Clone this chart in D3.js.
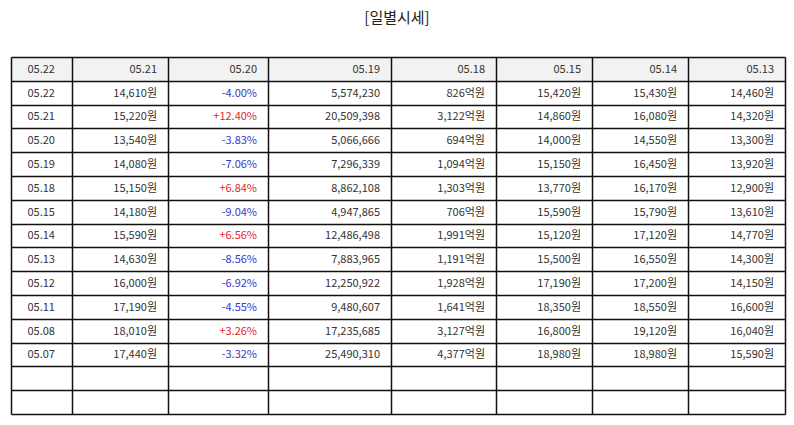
<!DOCTYPE html>
<html>
<head>
<meta charset="utf-8">
<script src="https://cdn.jsdelivr.net/npm/d3@7"></script>
<style>
  body { margin: 0; background: #fff; }
  text { font-family: "Noto Sans CJK KR", "Noto Sans", sans-serif; }
</style>
</head>
<body>
<div id="chart"></div>
<script>
var title = "[일별시세]";

var headers = ["05.22", "05.21", "05.20", "05.19", "05.18", "05.15", "05.14", "05.13"];

var dates = ["05.22", "05.21", "05.20", "05.19", "05.18", "05.15", "05.14", "05.13", "05.12", "05.11", "05.08", "05.07"];
var closePrice = ["14,610원", "15,220원", "13,540원", "14,080원", "15,150원", "14,180원", "15,590원", "14,630원", "16,000원", "17,190원", "18,010원", "17,440원"];
var changeRate = ["-4.00%", "+12.40%", "-3.83%", "-7.06%", "+6.84%", "-9.04%", "+6.56%", "-8.56%", "-6.92%", "-4.55%", "+3.26%", "-3.32%"];
var volume = ["5,574,230", "20,509,398", "5,066,666", "7,296,339", "8,862,108", "4,947,865", "12,486,498", "7,883,965", "12,250,922", "9,480,607", "17,235,685", "25,490,310"];
var amount = ["826억원", "3,122억원", "694억원", "1,094억원", "1,303억원", "706억원", "1,991억원", "1,191억원", "1,928억원", "1,641억원", "3,127억원", "4,377억원"];
var openPrice = ["15,420원", "14,860원", "14,000원", "15,150원", "13,770원", "15,590원", "15,120원", "15,500원", "17,190원", "18,350원", "16,800원", "18,980원"];
var highPrice = ["15,430원", "16,080원", "14,550원", "16,450원", "16,170원", "15,790원", "17,120원", "16,550원", "17,200원", "18,550원", "19,120원", "18,980원"];
var lowPrice = ["14,460원", "14,320원", "13,300원", "13,920원", "12,900원", "13,610원", "14,770원", "14,300원", "14,150원", "16,600원", "16,040원", "15,590원"];
var emptyRows = 2;

// layout
var W = 794, H = 425;
var tableTop = 57, tableBottom = 414;
var colEdges = [10.5, 72, 168, 268, 391, 496, 592, 688, 785];
var pad = 11;

var columns = [dates, closePrice, changeRate, volume, amount, openPrice, highPrice, lowPrice];

var rows = [];
rows.push({ header: true, cells: headers });
dates.forEach(function(d, i) {
  rows.push({ header: false, cells: columns.map(function(c) { return c[i]; }) });
});
for (var k = 0; k < emptyRows; k++) {
  rows.push({ header: false, cells: headers.map(function() { return ""; }) });
}

var y = d3.scaleBand()
  .domain(d3.range(rows.length))
  .range([tableTop, tableBottom]);

var svg = d3.select("#chart").append("svg")
  .attr("width", W)
  .attr("height", H);

svg.append("text")
  .attr("x", W / 2)
  .attr("y", 23)
  .attr("text-anchor", "middle")
  .attr("font-size", 15)
  .attr("fill", "#222")
  .text(title);

var rowG = svg.selectAll("g.row")
  .data(rows)
  .enter().append("g")
  .attr("class", "row")
  .attr("transform", function(d, i) { return "translate(0," + y(i) + ")"; });

rowG.filter(function(d) { return d.header; })
  .append("rect")
  .attr("x", colEdges[0])
  .attr("width", colEdges[colEdges.length - 1] - colEdges[0])
  .attr("height", y.bandwidth())
  .attr("fill", "#f2f2f2");

rowG.selectAll("text.cell")
  .data(function(d) {
    return d.cells.map(function(v, j) { return { v: v, j: j, header: d.header }; });
  })
  .enter().append("text")
  .attr("class", "cell")
  .attr("x", function(d) {
    return d.j === 0 ? (colEdges[0] + colEdges[1]) / 2 : colEdges[d.j + 1] - pad;
  })
  .attr("y", y.bandwidth() / 2)
  .attr("dy", "0.36em")
  .attr("text-anchor", function(d) { return d.j === 0 ? "middle" : "end"; })
  .attr("font-size", 11)
  .attr("fill", function(d) {
    if (!d.header && d.j === 2 && d.v) {
      return d.v.charAt(0) === "+" ? "#e0282e" : "#3838c8";
    }
    return "#333";
  })
  .text(function(d) { return d.v; });

// grid lines, snapped to pixel centres so every line has the same weight
var snap = function(v) { return Math.round(v) + 0.5; };

var grid = svg.append("g")
  .attr("stroke", "#111")
  .attr("stroke-width", 1.5);

grid.selectAll("line.h")
  .data(d3.range(rows.length + 1))
  .enter().append("line")
  .attr("x1", snap(colEdges[0]))
  .attr("x2", snap(colEdges[colEdges.length - 1]))
  .attr("y1", function(i) { return snap(i < rows.length ? y(i) : tableBottom); })
  .attr("y2", function(i) { return snap(i < rows.length ? y(i) : tableBottom); });

grid.selectAll("line.v")
  .data(colEdges)
  .enter().append("line")
  .attr("x1", function(d) { return snap(d); })
  .attr("x2", function(d) { return snap(d); })
  .attr("y1", snap(tableTop))
  .attr("y2", snap(tableBottom));
</script>
</body>
</html>
